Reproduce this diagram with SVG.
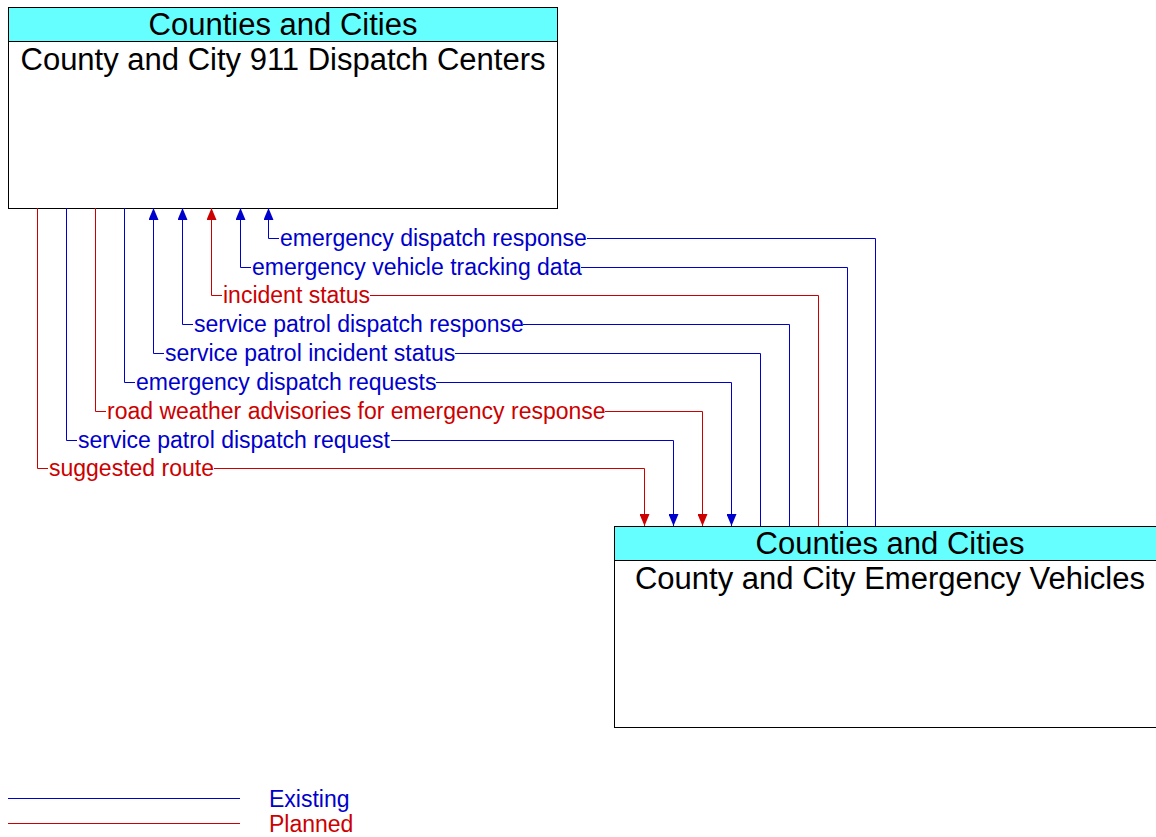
<svg xmlns="http://www.w3.org/2000/svg" width="1156" height="837" viewBox="0 0 1156 837">
  <style>
    .box { fill: #ffffff; stroke: #000000; stroke-width: 1; }
    .hdr { fill: #66ffff; stroke: #000000; stroke-width: 1; }
    .title { font-family: "Liberation Sans", Arial, sans-serif; font-size: 31px; fill: #000000; text-anchor: middle; }
    .lbl { font-family: "Liberation Sans", Arial, sans-serif; font-size: 23px; }
    .ex { fill: none; stroke: #0000cc; stroke-width: 1; }
    .pl { fill: none; stroke: #cc0000; stroke-width: 1; }
    .ext { fill: #0000cc; }
    .plt { fill: #cc0000; }
  </style>
  <defs>
    <marker id="arrow-ex" viewBox="0 0 12 10" refX="12" refY="5" markerWidth="12" markerHeight="10" markerUnits="userSpaceOnUse" orient="auto">
      <path d="M0,0 L12,5 L0,10 Z" fill="#0000cc"/>
    </marker>
    <marker id="arrow-pl" viewBox="0 0 12 10" refX="12" refY="5" markerWidth="12" markerHeight="10" markerUnits="userSpaceOnUse" orient="auto">
      <path d="M0,0 L12,5 L0,10 Z" fill="#cc0000"/>
    </marker>
  </defs>

  <rect x="0" y="0" width="1156" height="837" fill="#ffffff"/>

  <g id="dispatch-centers">
    <rect class="box" x="8.5" y="7.5" width="549" height="201"/>
    <rect class="hdr" x="8.5" y="7.5" width="549" height="34"/>
    <text class="title" x="283" y="35">Counties and Cities</text>
    <text class="title" x="283" y="70">County and City 911 Dispatch Centers</text>
  </g>

  <g id="emergency-vehicles">
    <rect class="box" x="614.5" y="526.5" width="551" height="201"/>
    <rect class="hdr" x="614.5" y="526.5" width="551" height="34"/>
    <text class="title" x="890" y="554">Counties and Cities</text>
    <text class="title" x="890" y="589">County and City Emergency Vehicles</text>
  </g>

  <g id="connectors">
    <!-- flows to the dispatch centers -->
    <path class="ex" d="M875.5,526 V238.5 H268.5 V208" marker-end="url(#arrow-ex)"/>
    <path class="ex" d="M847.5,526 V267.5 H240.5 V208" marker-end="url(#arrow-ex)"/>
    <path class="pl" d="M818.5,526 V295.5 H211.5 V208" marker-end="url(#arrow-pl)"/>
    <path class="ex" d="M789.5,526 V324.5 H182.5 V208" marker-end="url(#arrow-ex)"/>
    <path class="ex" d="M760.5,526 V353.5 H153.5 V208" marker-end="url(#arrow-ex)"/>
    <!-- flows to the vehicles -->
    <path class="ex" d="M124.5,208 V382.5 H731.5 V526" marker-end="url(#arrow-ex)"/>
    <path class="pl" d="M95.5,208 V411.5 H702.5 V526" marker-end="url(#arrow-pl)"/>
    <path class="ex" d="M66.5,208 V440.5 H673.5 V526" marker-end="url(#arrow-ex)"/>
    <path class="pl" d="M37.5,208 V468.5 H644.5 V526" marker-end="url(#arrow-pl)"/>

    <g class="lbl">
      <rect x="279" y="228" width="308" height="21" fill="#ffffff"/>
      <text class="ext" x="280" y="246">emergency dispatch response</text>
      <rect x="251" y="257" width="330" height="21" fill="#ffffff"/>
      <text class="ext" x="252" y="275">emergency vehicle tracking data</text>
      <rect x="222" y="285" width="148" height="21" fill="#ffffff"/>
      <text class="plt" x="223" y="303">incident status</text>
      <rect x="193" y="314" width="330" height="21" fill="#ffffff"/>
      <text class="ext" x="194" y="332">service patrol dispatch response</text>
      <rect x="164" y="343" width="291" height="21" fill="#ffffff"/>
      <text class="ext" x="165" y="361">service patrol incident status</text>
      <rect x="135" y="372" width="301" height="21" fill="#ffffff"/>
      <text class="ext" x="136" y="390">emergency dispatch requests</text>
      <rect x="106" y="401" width="499" height="21" fill="#ffffff"/>
      <text class="plt" x="107" y="419">road weather advisories for emergency response</text>
      <rect x="77" y="430" width="314" height="21" fill="#ffffff"/>
      <text class="ext" x="78" y="448">service patrol dispatch request</text>
      <rect x="48" y="458" width="166" height="21" fill="#ffffff"/>
      <text class="plt" x="49" y="476">suggested route</text>
    </g>
  </g>

  <g id="legend">
    <line class="ex" x1="8" y1="798.5" x2="240" y2="798.5"/>
    <line class="pl" x1="8" y1="823.5" x2="240" y2="823.5"/>
    <text class="lbl ext" x="269" y="807">Existing</text>
    <text class="lbl plt" x="269" y="832">Planned</text>
  </g>
</svg>
